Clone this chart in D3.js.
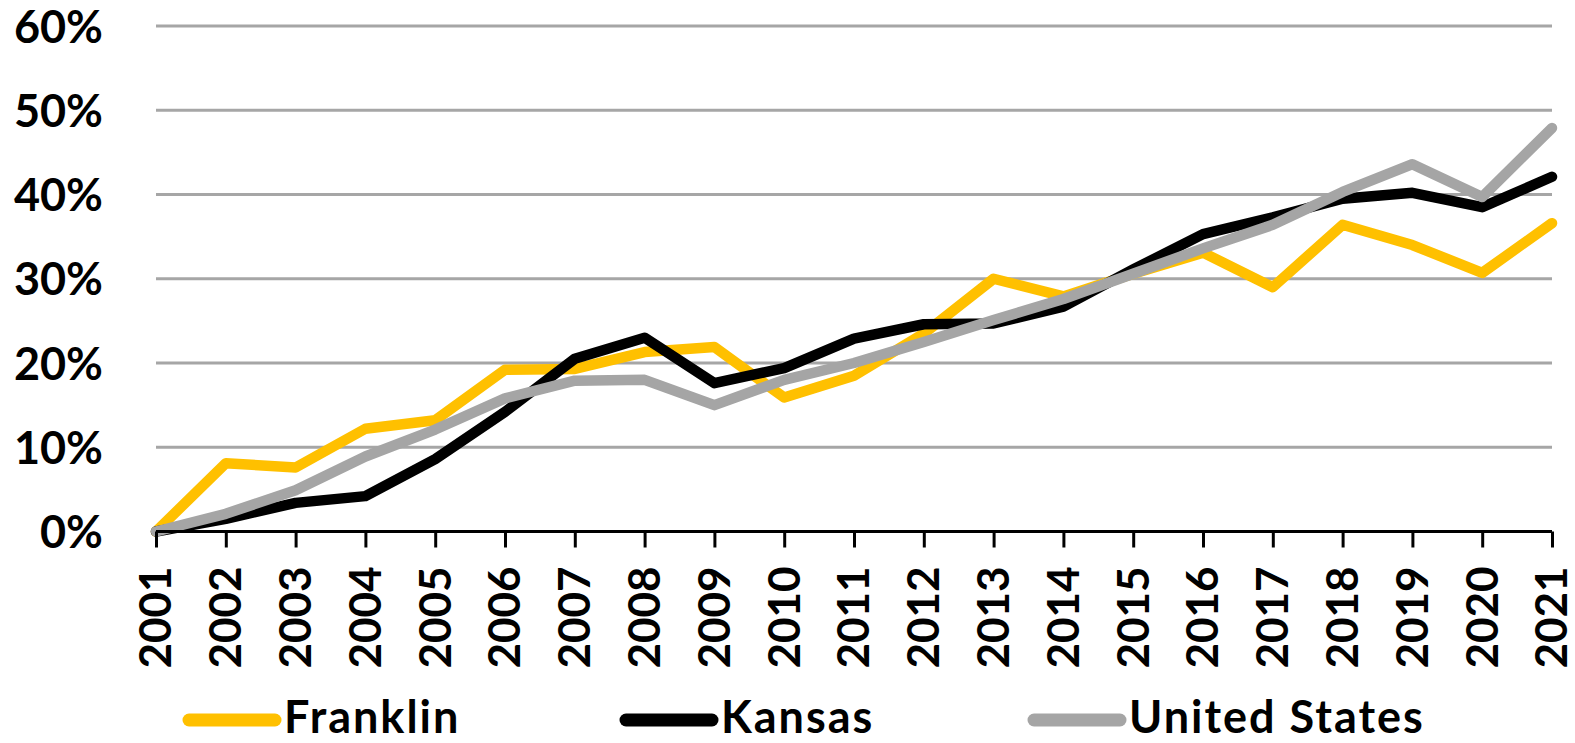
<!DOCTYPE html>
<html><head><meta charset="utf-8">
<script src="https://cdn.jsdelivr.net/npm/d3@7"></script>
<style>html,body{margin:0;padding:0;background:#fff;}svg{display:block;}</style>
</head><body>
<svg id="chart" width="1575" height="743"></svg>
<script>
const years = ["2001","2002","2003","2004","2005","2006","2007","2008","2009","2010","2011","2012","2013","2014","2015","2016","2017","2018","2019","2020","2021"];
const franklin = [0.000,0.081,0.076,0.122,0.132,0.192,0.193,0.213,0.219,0.159,0.185,0.235,0.300,0.279,0.306,0.331,0.290,0.364,0.340,0.307,0.366];
const kansas   = [0.000,0.015,0.034,0.042,0.086,0.142,0.205,0.230,0.176,0.194,0.229,0.246,0.247,0.267,0.311,0.353,0.373,0.395,0.402,0.385,0.421];
const unitedStates = [0.000,0.021,0.049,0.089,0.121,0.158,0.179,0.180,0.150,0.180,0.200,0.225,0.251,0.276,0.306,0.336,0.364,0.403,0.436,0.397,0.479];
const yTicks = [0,0.1,0.2,0.3,0.4,0.5,0.6];
const seriesNames = ["Franklin","Kansas","United States"];
const seriesColors = ["#FFC000","#000000","#A5A5A5"];

const FONT = "Lato, 'Open Sans', sans-serif";
const svg = d3.select("#chart");
const x = d3.scalePoint().domain(years).range([156,1552]);
const y = d3.scaleLinear().domain([0,0.6]).range([531.5,26]);

// gridlines
svg.append("g").selectAll("line").data(yTicks.filter(d=>d>0)).join("line")
  .attr("x1",156).attr("x2",1552).attr("y1",d=>y(d)).attr("y2",d=>y(d))
  .attr("stroke","#A6A6A6").attr("stroke-width",3);

// y labels
const yAxis = d3.axisLeft(y).tickValues(yTicks).tickFormat(d3.format(".0%")).tickSize(0).tickPadding(0);
const gy = svg.append("g").attr("transform","translate(103,0)").call(yAxis);
gy.select(".domain").remove();
gy.selectAll("text").attr("font-family",FONT).attr("font-size",45)
  .attr("font-weight","700").attr("fill","#000").attr("dy","0.36em");

// series
const data = [franklin,kansas,unitedStates];
const line = d3.line().x((d,i)=>x(years[i])).y(d=>y(d));
svg.append("g").selectAll("path").data(data).join("path")
  .attr("d",line).attr("fill","none")
  .attr("stroke",(d,i)=>seriesColors[i]).attr("stroke-width",10.5)
  .attr("stroke-linejoin","round").attr("stroke-linecap","round");

// x axis
const xAxis = d3.axisBottom(x).tickSize(16).tickPadding(17);
const gx = svg.append("g").attr("transform",`translate(0,${y(0)})`).call(xAxis);
gx.select(".domain").attr("stroke","#000").attr("stroke-width",3).attr("d","M156,0H1552");
gx.selectAll(".tick line").attr("stroke","#000").attr("stroke-width",3);
gx.selectAll("text").attr("font-family",FONT).attr("font-size",44)
  .attr("font-weight","700").attr("fill","#000")
  .attr("transform","rotate(-90)").attr("text-anchor","end")
  .attr("x",-35).attr("y",0).attr("dy","0.34em");

// legend
const legendX = [189,626,1034];
const lg = svg.append("g").selectAll("g").data(seriesNames).join("g")
  .attr("transform",(d,i)=>`translate(${legendX[i]},720)`);
lg.append("line").attr("x1",0).attr("x2",86).attr("y1",0).attr("y2",0)
  .attr("stroke",(d,i)=>seriesColors[i]).attr("stroke-width",13).attr("stroke-linecap","round");
lg.append("text").attr("x",95).attr("y",13).text(d=>d)
  .attr("font-family",FONT).attr("font-size",45).attr("font-weight","700")
  .attr("letter-spacing","2px").attr("fill","#000");
</script>
</body></html>
